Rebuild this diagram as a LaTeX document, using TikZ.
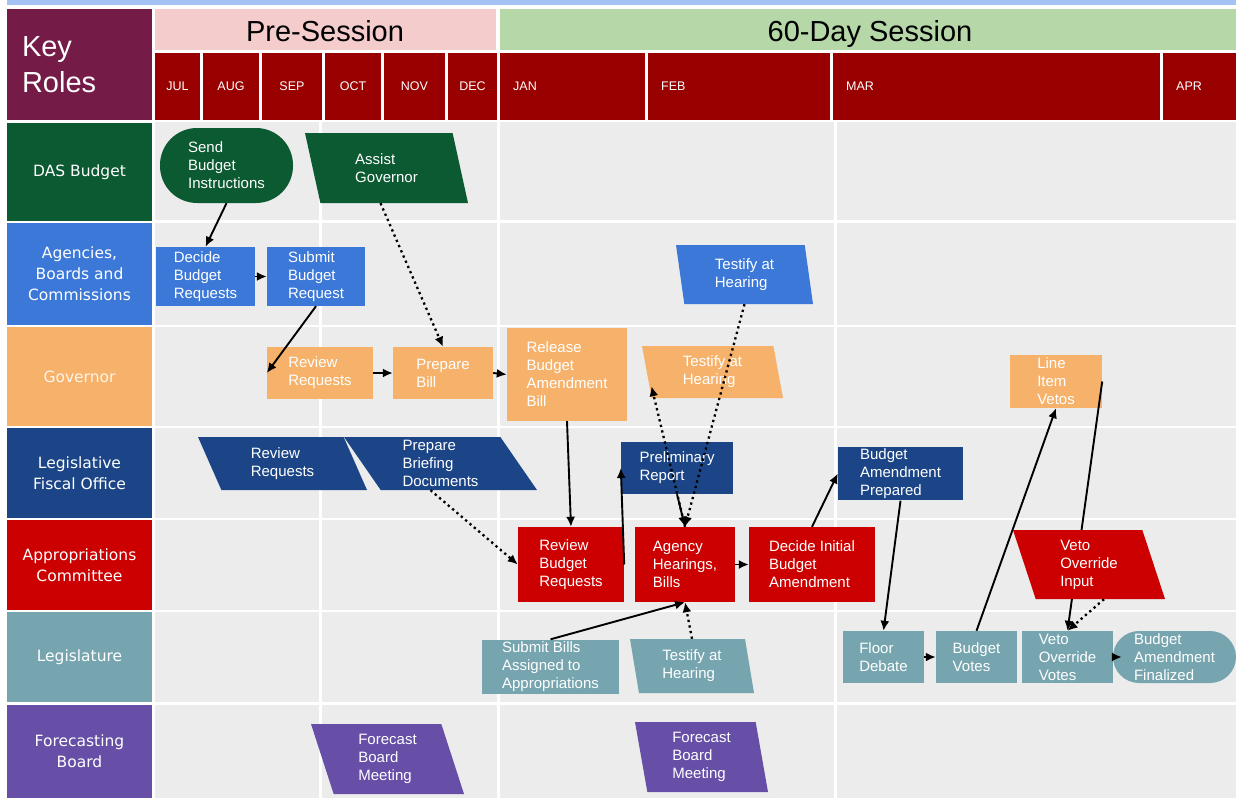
\documentclass[tikz,border=0pt]{standalone}
\usepackage{fontspec}
\setmainfont{Liberation Sans}
\newfontfamily\lanefont{DejaVu Sans}
\usepackage{tikz}
\usetikzlibrary{shapes.geometric,arrows.meta,calc}
\definecolor{topblue}{HTML}{A4C2F4}
\definecolor{keyplum}{HTML}{741B47}
\definecolor{prepink}{HTML}{F4CCCC}
\definecolor{sessgreen}{HTML}{B6D7A8}
\definecolor{monthred}{HTML}{990000}
\definecolor{cellgray}{HTML}{ECECEC}
\definecolor{dasgreen}{HTML}{0B5A31}
\definecolor{agencyblue}{HTML}{3C78D8}
\definecolor{govorange}{HTML}{F6B26B}
\definecolor{lfoblue}{HTML}{1C4587}
\definecolor{approred}{HTML}{CC0000}
\definecolor{legisteal}{HTML}{76A5AF}
\definecolor{fcpurple}{HTML}{674EA7}
\newcommand{\boxtext}{\fontsize{15}{18}\selectfont}
\newcommand{\lanetext}{\lanefont\fontsize{15.5}{21}\selectfont}

\begin{document}
\begin{tikzpicture}[x=1pt,y=-1pt,
   flow/.style={-{Latex[length=10pt,width=9pt]},line width=1.9pt},
   aid/.style={flow,line width=2.3pt,dash pattern=on 2.3pt off 3.4pt},
   task/.style={rectangle,text=white,font=\boxtext,align=left,inner sep=2pt},
   para/.style={task,trapezium,trapezium left angle={180-#1},trapezium right angle={#1},
     trapezium stretches body},
   pill/.style={task,rounded corners=#1},
   lane/.style={minimum width=145pt,text=white,font=\lanetext,align=center,inner sep=0pt},
   month/.style={text=white,font=\fontsize{12.5}{14}\selectfont,inner sep=0pt}]
  \useasboundingbox (0,0) rectangle (1236,798);
  \fill[white] (0,0) rectangle (1236,798);

  % header
  \fill[topblue] (7,0) rectangle (1236,5);
  \node[fill=keyplum,minimum width=145pt,minimum height=111pt,text width=115pt,inner xsep=15pt,
        align=left,text=white,font=\fontsize{29}{36}\selectfont] (keyroles) at (79.5,64.5) {Key\\Roles};
  \fill[prepink] (155,9) rectangle (496,50);
  \node[anchor=base,font=\fontsize{29}{32}\selectfont] (pre) at (325,41) {Pre-Session};
  \fill[sessgreen] (500,9) rectangle (1236,50);
  \node[anchor=base,font=\fontsize{29}{32}\selectfont] (sess) at (870,41) {60-Day Session};
  \foreach \xa/\xb/\m in {155/200/JUL,203/259/AUG,262/322/SEP,325/381/OCT,384/445/NOV,448/497/DEC}{
    \fill[monthred] (\xa,53) rectangle (\xb,120);
    \node[month] (m-\m) at ({(\xa+\xb)/2},86.5) {\m};}
  \foreach \xa/\xb/\m in {500/645/JAN,648/830/FEB,833/1160/MAR,1163/1236/APR}{
    \fill[monthred] (\xa,53) rectangle (\xb,120);
    \node[month,anchor=west] (m-\m) at (\xa+13,86.5) {\m};}

  % lanes
  \foreach \ya/\yb in {122/220,223/325,327/426,428/518,520/610,612/702,705/798}
    \foreach \xa/\xb in {155/319,322/497,500/834,837/1236}
      \fill[cellgray] (\xa,\ya) rectangle (\xb,\yb);
  \node[lane,fill=dasgreen,minimum height=98pt] (k-das) at (79.5,172) {DAS Budget};
  \node[lane,fill=agencyblue,minimum height=102pt] (k-abc) at (79.5,274) {Agencies,\\Boards and\\Commissions};
  \node[lane,fill=govorange,minimum height=99pt,text=white!85!govorange] (k-gov) at (79.5,376.5) {Governor};
  \node[lane,fill=lfoblue,minimum height=90pt] (k-lfo) at (79.5,473) {Legislative\\Fiscal Office};
  \node[lane,fill=approred,minimum height=90pt] (k-app) at (79.5,565) {Appropriations\\Committee};
  \node[lane,fill=legisteal,minimum height=90pt] (k-leg) at (79.5,657) {Legislature};
  \node[lane,fill=fcpurple,minimum height=93pt] (k-fcb) at (79.5,751.5) {Forecasting\\Board};

  % steps
  \node[pill=37pt,fill=dasgreen,minimum width=133pt,minimum height=75pt] (send) at (226.5,165.5) {Send\\Budget\\Instructions};
  \node[para=65,fill=dasgreen,minimum width=163pt,minimum height=70pt] (assist) at (386.5,168) {Assist\\Governor};
  \node[task,fill=agencyblue,minimum width=99pt,minimum height=59pt] (decide) at (205.5,276.5) {Decide\\Budget\\Requests};
  \node[task,fill=agencyblue,minimum width=98pt,minimum height=59pt] (submit) at (316,276.5) {Submit\\Budget\\Request};
  \node[para=77,fill=agencyblue,minimum width=137pt,minimum height=59pt] (testag) at (744.5,274.5) {Testify at\\Hearing};
  \node[task,fill=govorange,minimum width=106pt,minimum height=52pt] (revgov) at (320,373) {Review\\Requests};
  \node[task,fill=govorange,minimum width=100pt,minimum height=52pt] (prepbill) at (443,373) {Prepare\\Bill};
  \node[task,fill=govorange,minimum width=120pt,minimum height=93pt] (release) at (567,374.5) {Release\\Budget\\Amendment\\Bill};
  \node[para=75,fill=govorange,minimum width=141pt,minimum height=52pt] (testgov) at (712.5,372) {Testify at\\Hearing};
  \node[task,fill=govorange,minimum width=92pt,minimum height=53pt] (vetos) at (1056,381.5) {Line\\Item\\Vetos};
  \node[para=57,fill=lfoblue,minimum width=169pt,minimum height=53pt] (revlfo) at (282.5,463.5) {Review\\Requests};
  \node[para=54,fill=lfoblue,minimum width=193pt,minimum height=53pt] (brief) at (440.5,463.5) {Prepare\\Briefing\\Documents};
  \node[task,fill=lfoblue,minimum width=112pt,minimum height=52pt] (prelim) at (677,468) {Preliminary\\Report};
  \node[task,fill=lfoblue,minimum width=125pt,minimum height=53pt] (bap) at (900.5,473.5) {Budget\\Amendment\\Prepared};
  \node[task,fill=approred,minimum width=106pt,minimum height=75pt] (revbud) at (571,564.5) {Review\\Budget\\Requests};
  \node[task,fill=approred,minimum width=100pt,minimum height=75pt] (hearings) at (685,564.5) {Agency\\Hearings,\\Bills};
  \node[task,fill=approred,minimum width=126pt,minimum height=75pt] (decinit) at (812,564.5) {Decide Initial\\Budget\\Amendment};
  \node[task,fill=legisteal,minimum width=137pt,minimum height=53pt] (sbills) at (550.5,666.5) {Submit Bills\\Assigned to\\Appropriations};
  \node[para=76,fill=legisteal,minimum width=124pt,minimum height=54pt] (testleg) at (692,666) {Testify at\\Hearing};
  \node[task,fill=legisteal,minimum width=81pt,minimum height=52pt] (floor) at (883.5,657) {Floor\\Debate};
  \node[task,fill=legisteal,minimum width=81pt,minimum height=52pt] (bvotes) at (976.5,657) {Budget\\Votes};
  \node[task,fill=legisteal,minimum width=91pt,minimum height=52pt] (vovotes) at (1067.5,657) {Veto\\Override\\Votes};
  \node[pill=26pt,fill=legisteal,minimum width=123pt,minimum height=52pt] (final) at (1174.5,657) {Budget\\Amendment\\Finalized};
  \node[para=67,fill=fcpurple,minimum width=153pt,minimum height=70pt] (fcast1) at (387.5,759) {Forecast\\Board\\Meeting};
  \node[para=77,fill=fcpurple,minimum width=133pt,minimum height=70pt] (fcast2) at (701.5,757) {Forecast\\Board\\Meeting};

  % connectors
  \draw[flow] (vetos.east) -- (vovotes.north);
  \node[para=67,fill=approred,minimum width=152pt,minimum height=69pt] (voinput) at (1089,564.5) {Veto\\Override\\Input};
  \draw[flow] (send.south) -- (decide.north);
  \draw[flow] (decide.east) -- (submit.west);
  \draw[flow] (submit.south) -- (revgov.west);
  \draw[aid] ([xshift=-6pt]assist.south) -- (prepbill.north);
  \draw[flow] (revgov.east) -- (prepbill.west);
  \draw[flow] (prepbill.east) -- (release.west);
  \draw[flow] (release.south) -- (revbud.north);
  \draw[aid] ([xshift=-10pt]brief.south) -- (revbud.west);
  \draw[flow] (revbud.east) -- (prelim.west);
  \draw[flow] (prelim.south) -- (hearings.north);
  \draw[aid] (hearings.north) -- ([yshift=12pt]testgov.bottom left corner);
  \draw[aid] (testag.south) -- (hearings.north);
  \draw[flow] (hearings.east) -- (decinit.west);
  \draw[flow] (decinit.north) -- (bap.west);
  \draw[flow] (bap.south) -- (floor.north);
  \draw[flow] (sbills.north) -- (hearings.south);
  \draw[aid] (testleg.north) -- (hearings.south);
  \draw[flow] (floor.east) -- (bvotes.west);
  \draw[flow] (bvotes.north) -- (vetos.south);
  \draw[aid] ([xshift=15pt]voinput.south) -- (vovotes.north);
  \draw[flow] (vovotes.east) -- ([xshift=9pt]final.west);
\end{tikzpicture}
\end{document}
